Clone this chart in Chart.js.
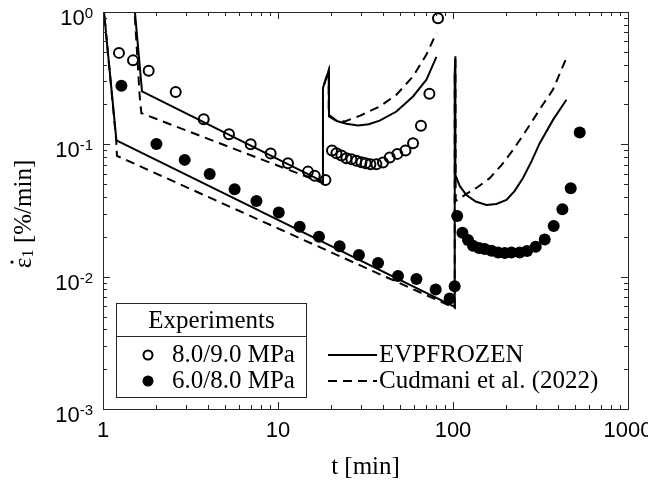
<!DOCTYPE html>
<html>
<head>
<meta charset="utf-8">
<script src="https://cdn.jsdelivr.net/npm/chart.js@4.4.1/dist/chart.umd.min.js"></script>
<style>
  html, body { margin: 0; padding: 0; background: #fff; }
  #wrap { width: 648px; height: 488px; position: relative; }
</style>
</head>
<body>
<div id="wrap"><canvas id="creepRate"></canvas></div>
<script>
// experiments 8.0/9.0 MPa (open circles)
const openT = [1.234, 1.484, 1.824, 2.603, 3.762, 5.248, 6.98, 9.08, 11.4, 14.84, 16.21, 18.66,
  20.35, 21.57, 23.03, 24.59, 26.27, 28.05, 29.97, 31.7, 33.73, 36.5, 39.8, 43.5, 48.1, 53.5, 59.1, 65.6, 73.3, 82.1];
const openRate = [0.491, 0.431, 0.360, 0.249, 0.155, 0.119, 0.100, 0.0852, 0.072, 0.0622, 0.058, 0.0538,
  0.0898, 0.0858, 0.0823, 0.0786, 0.0773, 0.075, 0.0733, 0.072, 0.0708, 0.0708, 0.0728, 0.0794, 0.0847, 0.0898, 0.102, 0.138, 0.241, 0.898];

// experiments 6.0/8.0 MPa (filled circles)
const filledT = [1.274, 2.02, 2.93, 4.07, 5.65, 7.53, 10.1, 13.3, 17.15, 22.5, 29.0, 37.3, 48.5, 61.8, 79.6, 95.7, 102.2,
  105.7, 113.2, 121.8, 130.1, 140.8, 151.8, 165.8, 180.8, 197.5, 215.7, 240.5, 264.9, 297, 334.2, 376.2, 421.8, 470.6, 529.7];
const filledRate = [0.2775, 0.1004, 0.0763, 0.0598, 0.0458, 0.0373, 0.0305, 0.0238, 0.020, 0.017, 0.0146, 0.0127, 0.0101, 0.00962, 0.0080, 0.00684, 0.00848,
  0.0287, 0.0215, 0.0189, 0.0171, 0.0165, 0.0162, 0.0157, 0.0152, 0.0151, 0.0152, 0.0152, 0.0156, 0.0168, 0.0191, 0.0241, 0.0323, 0.0466, 0.123];

// EVPFROZEN model (solid)
const evpOpenT = [1.503, 1.671, 18.07, 18.07, 19.49, 19.56, 21.65, 24.6, 28.65, 33.0, 38.1, 47.5, 59.1, 70.5, 80.4];
const evpOpenRate = [1.2, 0.251, 0.0523, 0.267, 0.362, 0.1625, 0.150, 0.143, 0.139, 0.142, 0.151, 0.177, 0.230, 0.308, 0.458];
const evpFilledT = [1.0, 1.193, 102.3, 102.3, 103.2, 103.2, 109.2, 119.3, 134.8, 155.2, 177, 202, 225.3, 251.2, 281.7, 313, 372.8, 444.6];
const evpFilledRate = [1.2, 0.107, 0.0059, 0.35, 0.463, 0.0588, 0.0485, 0.0414, 0.037, 0.0348, 0.0354, 0.038, 0.0445, 0.0557, 0.075, 0.102, 0.153, 0.217];

// Cudmani et al. (2022) model (dashed)
const cudOpenT = [1.503, 1.621, 1.657, 18.07, 18.07, 19.49, 19.49, 21.65, 24.05, 29.3, 38.1, 47.5, 59.1, 70.5, 80.4];
const cudOpenRate = [1.2, 0.23, 0.172, 0.051, 0.267, 0.362, 0.167, 0.151, 0.149, 0.164, 0.193, 0.237, 0.326, 0.477, 0.695];
const cudFilledT = [1.0, 1.19, 1.202, 102.3, 102.3, 103.2, 103.6, 119.3, 138.4, 162.1, 189.8, 220.3, 250.2, 286.5, 325.6, 372.8, 440.6];
const cudFilledRate = [1.2, 0.107, 0.0818, 0.0058, 0.35, 0.463, 0.0373, 0.0422, 0.0476, 0.0555, 0.07, 0.0908, 0.116, 0.153, 0.199, 0.259, 0.437];

const xTicks = [1, 10, 100, 1000];
const xTickLabels = ['1', '10', '100', '1000'];
const yTicks = [0.001, 0.01, 0.1, 1];
const yTickExp = ['-3', '-2', '-1', '0'];

const INK = '#000';
const AXIS = '#262626';
const SANS = '"Liberation Sans", Arial, sans-serif';
const SERIF = '"Liberation Serif", "Times New Roman", serif';

function pts(t, r) {
  return t.map((v, i) => ({ x: v, y: r[i] }));
}

function lineSet(label, t, r, dash) {
  return {
    label: label,
    data: pts(t, r),
    showLine: true,
    borderColor: INK,
    borderWidth: 2,
    borderDash: dash,
    pointRadius: 0,
    fill: false,
    tension: 0
  };
}

const datasets = [
  { label: '8.0/9.0 MPa', data: pts(openT, openRate), pointRadius: 5, pointBorderWidth: 2,
    pointBackgroundColor: 'rgba(0,0,0,0)', pointBorderColor: INK, showLine: false },
  { label: '6.0/8.0 MPa', data: pts(filledT, filledRate), pointRadius: 6, pointBorderWidth: 0,
    pointBackgroundColor: INK, pointBorderColor: INK, showLine: false },
  lineSet('EVPFROZEN', evpOpenT, evpOpenRate, []),
  lineSet('EVPFROZEN', evpFilledT, evpFilledRate, []),
  lineSet('Cudmani et al. (2022)', cudOpenT, cudOpenRate, [9, 6]),
  lineSet('Cudmani et al. (2022)', cudFilledT, cudFilledRate, [9, 6])
];

// axes box, inward ticks, labels and the legend, drawn from the chart scales
const frame = {
  id: 'frame',
  afterDraw(chart) {
    const ctx = chart.ctx;
    const a = chart.chartArea;
    const xs = chart.scales.x;
    const ys = chart.scales.y;
    ctx.save();

    ctx.strokeStyle = AXIS;
    ctx.lineWidth = 1;
    ctx.strokeRect(Math.round(a.left) + 0.5, Math.round(a.top) + 0.5,
      Math.round(a.right - a.left), Math.round(a.bottom - a.top));

    function xTick(v, len) {
      const p = Math.round(xs.getPixelForValue(v)) + 0.5;
      ctx.beginPath();
      ctx.moveTo(p, a.bottom); ctx.lineTo(p, a.bottom - len);
      ctx.moveTo(p, a.top); ctx.lineTo(p, a.top + len);
      ctx.stroke();
    }
    function yTick(v, len) {
      const p = Math.round(ys.getPixelForValue(v)) + 0.5;
      ctx.beginPath();
      ctx.moveTo(a.left, p); ctx.lineTo(a.left + len, p);
      ctx.moveTo(a.right, p); ctx.lineTo(a.right - len, p);
      ctx.stroke();
    }
    for (let d = 0; d < 3; d++) {
      for (let k = 2; k <= 9; k++) xTick(k * Math.pow(10, d), 4);
    }
    xTicks.forEach(v => xTick(v, 7));
    for (let d = -3; d < 0; d++) {
      for (let k = 2; k <= 9; k++) yTick(k * Math.pow(10, d), 4);
    }
    yTicks.forEach(v => yTick(v, 7));

    // tick labels
    ctx.fillStyle = INK;
    ctx.font = '22px ' + SANS;
    ctx.textAlign = 'center';
    ctx.textBaseline = 'middle';
    xTicks.forEach((v, i) => {
      ctx.fillText(xTickLabels[i], xs.getPixelForValue(v), 431);
    });
    yTicks.forEach((v, i) => {
      const p = ys.getPixelForValue(v);
      ctx.font = '15px ' + SANS;
      const we = ctx.measureText(yTickExp[i]).width;
      ctx.textAlign = 'right';
      ctx.fillText(yTickExp[i], 93, p + 2);
      ctx.font = '22px ' + SANS;
      ctx.fillText('10', 93 - we, p + 7);
    });

    // axis titles
    ctx.font = '25px ' + SERIF;
    ctx.textAlign = 'center';
    ctx.fillText('t [min]', (a.left + a.right) / 2, 467);

    ctx.save();
    ctx.translate(24, 214);
    ctx.rotate(-Math.PI / 2);
    ctx.textAlign = 'left';
    ctx.font = '25px ' + SERIF;
    const wEps = ctx.measureText('\u03b5').width;
    const wRest = ctx.measureText(' [%/min]').width;
    ctx.font = '17px ' + SERIF;
    const wSub = ctx.measureText('1').width;
    let x0 = -(wEps + wSub + wRest) / 2;
    ctx.font = '25px ' + SERIF;
    ctx.fillText('\u03b5', x0, 0);
    ctx.beginPath();
    ctx.arc(x0 + wEps / 2 + 1, -12, 1.6, 0, Math.PI * 2);
    ctx.fill();
    ctx.font = '17px ' + SERIF;
    ctx.fillText('1', x0 + wEps, 5);
    ctx.font = '25px ' + SERIF;
    ctx.fillText(' [%/min]', x0 + wEps + wSub, 0);
    ctx.restore();

    // legend: boxed experiments block
    const ds = chart.data.datasets;
    ctx.fillStyle = '#fff';
    ctx.fillRect(117, 304, 189, 94);
    ctx.strokeStyle = AXIS;
    ctx.lineWidth = 1;
    ctx.strokeRect(116.5, 303.5, 190, 94);
    ctx.beginPath();
    ctx.moveTo(116.5, 336.5); ctx.lineTo(306.5, 336.5);
    ctx.stroke();
    ctx.fillStyle = INK;
    ctx.font = '25px ' + SERIF;
    ctx.textAlign = 'center';
    ctx.fillText('Experiments', 211.5, 321);
    ctx.textAlign = 'left';
    const rows = [355, 381];
    ctx.strokeStyle = INK;
    ctx.lineWidth = 2;
    ctx.beginPath();
    ctx.arc(148, rows[0], 4.5, 0, Math.PI * 2);
    ctx.stroke();
    ctx.beginPath();
    ctx.arc(148, rows[1], 5.5, 0, Math.PI * 2);
    ctx.fill();
    ctx.fillText(ds[0].label, 172, rows[0]);
    ctx.fillText(ds[1].label, 172, rows[1]);

    // legend: model lines
    ctx.beginPath();
    ctx.setLineDash([]);
    ctx.moveTo(328, rows[0]); ctx.lineTo(377, rows[0]);
    ctx.stroke();
    ctx.beginPath();
    ctx.setLineDash([9, 6]);
    ctx.moveTo(328, rows[1]); ctx.lineTo(377, rows[1]);
    ctx.stroke();
    ctx.setLineDash([]);
    ctx.fillText(ds[2].label, 379, rows[0]);
    ctx.fillText(ds[4].label, 379, rows[1]);

    ctx.restore();
  }
};

new Chart(document.getElementById('creepRate'), {
  type: 'scatter',
  data: { datasets: datasets },
  options: {
    responsive: true,
    maintainAspectRatio: false,
    animation: false,
    layout: { padding: { left: 103, right: 20, top: 12, bottom: 79 } },
    scales: {
      x: { type: 'logarithmic', min: 1, max: 1000, display: false },
      y: { type: 'logarithmic', min: 0.001, max: 1, display: false }
    },
    plugins: {
      legend: { display: false },
      tooltip: { enabled: false }
    }
  },
  plugins: [frame]
});
</script>
</body>
</html>
